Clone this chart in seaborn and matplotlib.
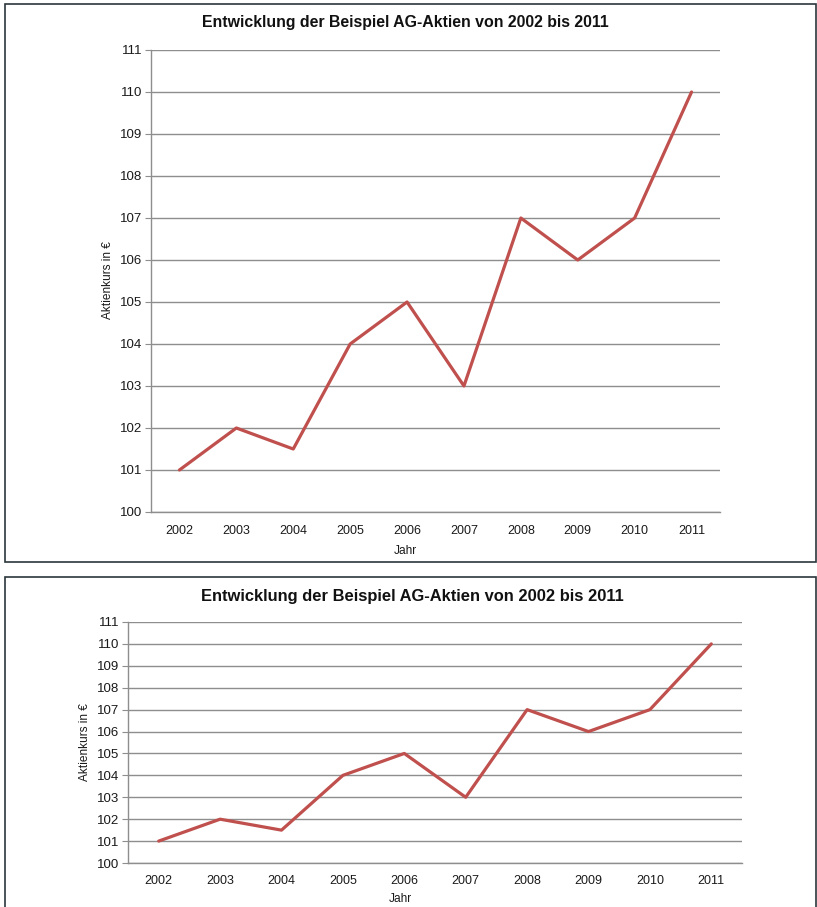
import numpy as np
import pandas as pd
import seaborn as sns
import matplotlib.pyplot as plt
from matplotlib.patches import Rectangle

jahre = [2002, 2003, 2004, 2005, 2006, 2007, 2008, 2009, 2010, 2011]
kurs = [101, 102, 101.5, 104, 105, 103, 107, 106, 107, 110]
titel = "Entwicklung der Beispiel AG-Aktien von 2002 bis 2011"

df = pd.DataFrame({"Jahr": jahre, "Kurs": kurs})

sns.set_style("white")
plt.rcParams['font.family'] = ['Liberation Sans', 'DejaVu Sans']

W, H = 817, 907
fig = plt.figure(figsize=(W / 100, H / 100), dpi=100)

# rahmen um beide diagramme
fig.patches.append(Rectangle((5 / W, 1 - 562 / H), 811 / W, 558 / H, transform=fig.transFigure,
                             fill=False, edgecolor='#2b363c', linewidth=1.2))
fig.patches.append(Rectangle((5 / W, -0.01), 811 / W, 1 - 577 / H + 0.01, transform=fig.transFigure,
                             fill=False, edgecolor='#2b363c', linewidth=1.2))


def chart(left, top, right, bottom, title_xy, ylab_xy, xlab_xy, tsize):
    ax = fig.add_axes([left / W, 1 - bottom / H, (right - left) / W, (bottom - top) / H])
    sns.lineplot(data=df, x="Jahr", y="Kurs", ax=ax, color='#c0504d', linewidth=2.3)
    ax.set_xlim(2001.5, 2011.5)
    ax.set_ylim(100, 111)
    ax.set_yticks(range(100, 112))
    ax.set_xticks(jahre)
    ax.set_xticklabels([str(j) for j in jahre])
    ax.yaxis.grid(True, color='#8e8e8e', linewidth=1)
    ax.set_axisbelow(True)
    for s in ['top', 'right']:
        ax.spines[s].set_visible(False)
    for s in ['left', 'bottom']:
        ax.spines[s].set_color('#8e8e8e')
        ax.spines[s].set_linewidth(1)
    ax.tick_params(axis='y', length=4, color='#8e8e8e', pad=2.5, labelsize=9.5, labelcolor='#1a1a1a', left=True)
    ax.tick_params(axis='x', length=0, pad=9, labelsize=9, labelcolor='#1a1a1a')
    ax.set_xlabel("")
    ax.set_ylabel("")
    fig.text(title_xy[0] / W, 1 - title_xy[1] / H, titel, ha='center', va='center',
             fontsize=tsize, fontweight='bold', color='#111111')
    fig.text(ylab_xy[0] / W, 1 - ylab_xy[1] / H, "Aktienkurs in €", rotation=90,
             ha='center', va='center', fontsize=8.6, color='#1a1a1a')
    fig.text(xlab_xy[0] / W, 1 - xlab_xy[1] / H, "Jahr", ha='center', va='center',
             fontsize=8.6, color='#1a1a1a')
    return ax


chart(151, 50, 720, 512, (405, 22), (108, 280), (405, 551), 11.4)
chart(128, 622, 742, 863, (412, 597), (85, 742), (400, 899), 11.9)

fig.savefig("out.png", dpi=100)
